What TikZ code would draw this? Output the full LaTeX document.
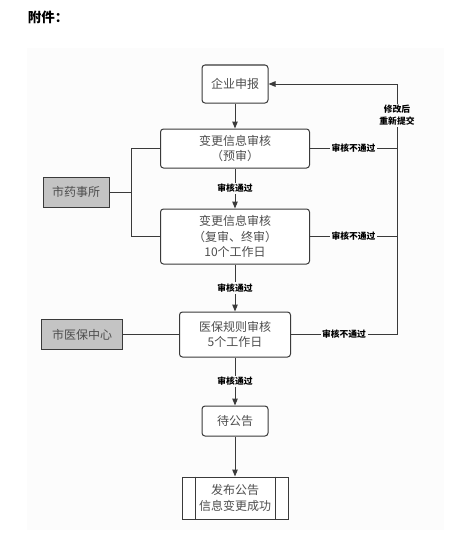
\documentclass[tikz,border=0pt]{standalone}
\usepackage{fontspec}
\usepackage{xcolor}
\usepackage{tikz}
\usetikzlibrary{arrows.meta, positioning}
\newfontfamily\cjk{Noto Sans CJK SC}
\definecolor{ink}{HTML}{3A3A3A}
\definecolor{paper}{HTML}{FCFCFC}
\definecolor{shade}{HTML}{C4C4C4}
\tikzset{
  box/.style={rectangle, draw=ink, fill=white, text=ink!90, rounded corners=3pt, align=center, inner sep=0pt, line width=1pt, font=\cjk\fontsize{12}{15.5}\selectfont},
  unit/.style={rectangle, draw=ink, fill=shade, text=ink!90, align=center, inner sep=0pt, minimum height=30pt, line width=1pt, font=\cjk\fontsize{12}{15.5}\selectfont},
  tag/.style={fill=paper, inner sep=1.5pt, align=center, text=black, font=\cjk\bfseries\fontsize{8.8}{12}\selectfont},
  line/.style={draw=ink, line width=1pt},
  arrow/.style={-{Triangle[length=7pt, width=5.5pt]}, draw=ink, line width=1pt},
}
\begin{document}
\begin{tikzpicture}[x=1pt, y=-1pt]
  \useasboundingbox (0,0) rectangle (454,543);
  \fill[paper] (27,48) rectangle (444,530);
  \node[font=\cjk\bfseries\fontsize{13.5}{15}\selectfont] (title) at (48,17) {附件：};
  % main column
  \node[box, minimum width=66pt, minimum height=38pt] (apply) at (235,84) {企业申报};
  \node[box, minimum width=149pt, minimum height=39pt, below=25pt of apply] (pre) {变更信息审核\\（预审）};
  \node[box, minimum width=149pt, minimum height=55pt, below=40pt of pre] (full) {变更信息审核\\（复审、终审）\\10个工作日};
  \node[box, minimum width=111pt, minimum height=45pt, below=47pt of full] (rule) {医保规则审核\\5个工作日};
  \node[box, minimum width=66pt, minimum height=30pt, below=48pt of rule] (wait) {待公告};
  \node[box, rounded corners=0pt, minimum width=106pt, minimum height=42pt, below=40pt of wait] (pub) {发布公告\\信息变更成功};
  \draw[line] ([xshift=14pt]pub.north west) -- ([xshift=14pt]pub.south west);
  \draw[line] ([xshift=-13pt]pub.north east) -- ([xshift=-13pt]pub.south east);
  % offices
  \node[unit, minimum width=66pt] (yao) at (76,192) {市药事所};
  \node[unit, minimum width=81pt, left=56pt of rule] (yb) {市医保中心};
  \coordinate (lk) at (131,192);
  \coordinate (back) at (397,84);
  % connectors
  \draw[arrow] (apply) -- (pre);
  \draw[arrow] (pre) -- node[tag]{审核通过} (full);
  \draw[arrow] (full) -- node[tag]{审核通过} (rule);
  \draw[arrow] (rule) -- node[tag]{审核通过} (wait);
  \draw[arrow] (wait) -- (pub);
  \draw[line] (pre.west) -- (pre.west -| lk) -- (full.west -| lk) -- (full.west);
  \draw[line] (yao.east) -- (lk);
  \draw[line] (yb) -- (rule);
  \draw[line] (pre.east) -- node[tag]{审核不通过} (pre.east -| back);
  \draw[line] (full.east) -- node[tag]{审核不通过} (full.east -| back);
  \draw[arrow] (rule.east) -- node[tag]{审核不通过} (rule.east -| back) -- node[tag, pos=0.875]{修改后\\重新提交} (back) -- (apply.east);
\end{tikzpicture}
\end{document}
